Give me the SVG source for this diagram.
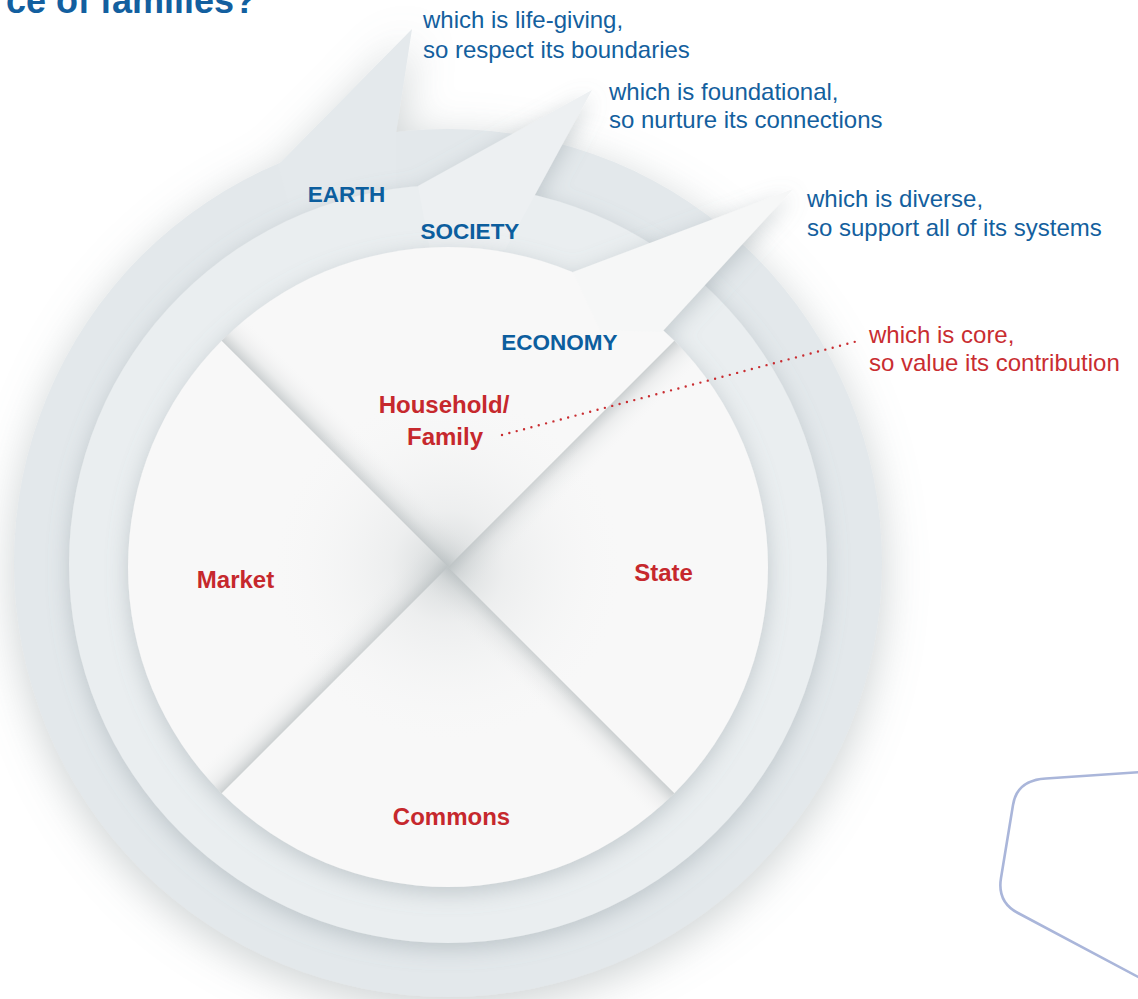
<svg xmlns="http://www.w3.org/2000/svg" width="1138" height="999" viewBox="0 0 1138 999">
<defs>
<style>
.lbl{font-family:"Liberation Sans",Arial,sans-serif;font-weight:bold;font-size:22.5px;fill:#0c5e9e;text-anchor:middle}
.sec{font-family:"Liberation Sans",Arial,sans-serif;font-weight:bold;font-size:24px;fill:#c6282d;text-anchor:middle}
.call{font-family:"Liberation Sans",Arial,sans-serif;font-size:24px;fill:#145f9e}
.callr{font-family:"Liberation Sans",Arial,sans-serif;font-size:24px;fill:#c92d31}
.title{font-family:"Liberation Sans",Arial,sans-serif;font-weight:bold;font-size:36px;fill:#135f9f;text-anchor:end}
</style>
<filter id="glow" x="-30%" y="-30%" width="160%" height="160%">
<feGaussianBlur in="SourceAlpha" stdDeviation="22"/>
<feOffset dy="10" result="o"/>
<feFlood flood-color="#8f9a9c" flood-opacity="0.45"/>
<feComposite in2="o" operator="in" result="s"/>
<feMerge><feMergeNode in="s"/><feMergeNode in="SourceGraphic"/></feMerge>
</filter>
<filter id="ds" x="-20%" y="-20%" width="140%" height="140%">
<feGaussianBlur in="SourceAlpha" stdDeviation="11"/>
<feOffset dy="6" result="o"/>
<feFlood flood-color="#7f8d93" flood-opacity="0.38"/>
<feComposite in2="o" operator="in" result="s"/>
<feMerge><feMergeNode in="s"/><feMergeNode in="SourceGraphic"/></feMerge>
</filter>
<linearGradient id="shTop" gradientUnits="userSpaceOnUse" x1="448" y1="567" x2="472.7" y2="542.3">
<stop offset="0" stop-color="#8e989b" stop-opacity="0.42"/><stop offset="0.35" stop-color="#a3abad" stop-opacity="0.15"/><stop offset="1" stop-color="#ffffff" stop-opacity="0"/>
</linearGradient>
<linearGradient id="shRight" gradientUnits="userSpaceOnUse" x1="448" y1="567" x2="472.7" y2="591.7">
<stop offset="0" stop-color="#8e989b" stop-opacity="0.42"/><stop offset="0.35" stop-color="#a3abad" stop-opacity="0.15"/><stop offset="1" stop-color="#ffffff" stop-opacity="0"/>
</linearGradient>
<linearGradient id="shBottom" gradientUnits="userSpaceOnUse" x1="448" y1="567" x2="423.3" y2="591.7">
<stop offset="0" stop-color="#8e989b" stop-opacity="0.42"/><stop offset="0.35" stop-color="#a3abad" stop-opacity="0.15"/><stop offset="1" stop-color="#ffffff" stop-opacity="0"/>
</linearGradient>
<linearGradient id="shLeft" gradientUnits="userSpaceOnUse" x1="448" y1="567" x2="423.3" y2="542.3">
<stop offset="0" stop-color="#8e989b" stop-opacity="0.42"/><stop offset="0.35" stop-color="#a3abad" stop-opacity="0.15"/><stop offset="1" stop-color="#ffffff" stop-opacity="0"/>
</linearGradient>
<radialGradient id="center" gradientUnits="userSpaceOnUse" cx="448" cy="567" r="190">
<stop offset="0" stop-color="#aeb6b8" stop-opacity="0.5"/><stop offset="0.3" stop-color="#c2c8ca" stop-opacity="0.2"/><stop offset="1" stop-color="#ffffff" stop-opacity="0"/>
</radialGradient>
<clipPath id="cTop"><path d="M448,567 L221.7,340.7 A320,320 0 0 1 674.3,340.7 Z"/></clipPath>
<clipPath id="cRight"><path d="M448,567 L674.3,340.7 A320,320 0 0 1 674.3,793.3 Z"/></clipPath>
<clipPath id="cBottom"><path d="M448,567 L674.3,793.3 A320,320 0 0 1 221.7,793.3 Z"/></clipPath>
<clipPath id="cLeft"><path d="M448,567 L221.7,793.3 A320,320 0 0 1 221.7,340.7 Z"/></clipPath>
</defs>
<rect width="1138" height="999" fill="#ffffff"/>

<g id="earth" filter="url(#glow)">
<circle cx="448" cy="563" r="434" fill="#e3e8eb"/>
<polygon points="278,165 412,29 396,133 396,210 290,210" fill="#e4e9ec"/>
</g>

<g id="society" filter="url(#ds)">
<circle cx="448" cy="564" r="379" fill="#eaeef0"/>
<polygon points="418,186 592,90 505,250 430,250" fill="#edf0f2"/>
</g>

<g id="economy" filter="url(#ds)">
<circle cx="448" cy="567" r="320" fill="#f8f8f8"/>
<polygon points="573,272 793,189 662,332 600,330" fill="#f6f7f7"/>
</g>

<g id="sector-shading">
<rect x="120" y="240" width="660" height="660" fill="url(#shTop)" clip-path="url(#cTop)"/>
<rect x="120" y="240" width="660" height="660" fill="url(#shRight)" clip-path="url(#cRight)"/>
<rect x="120" y="240" width="660" height="660" fill="url(#shBottom)" clip-path="url(#cBottom)"/>
<rect x="120" y="240" width="660" height="660" fill="url(#shLeft)" clip-path="url(#cLeft)"/>
<circle cx="448" cy="567" r="190" fill="url(#center)"/>
</g>

<g id="ring-labels">
<text class="lbl" x="346.5" y="202">EARTH</text>
<text class="lbl" x="470" y="239">SOCIETY</text>
<text class="lbl" x="559.5" y="350">ECONOMY</text>
</g>

<g id="household"><text class="sec" x="444" y="413">Household/</text><text class="sec" x="445" y="445">Family</text></g>
<g id="market"><text class="sec" x="235.5" y="588">Market</text></g>
<g id="state"><text class="sec" x="663.5" y="581">State</text></g>
<g id="commons"><text class="sec" x="451.5" y="825">Commons</text></g>

<g id="connectors">
<line x1="502" y1="435" x2="858" y2="341" stroke="#c92d31" stroke-width="2.4" stroke-linecap="round" stroke-dasharray="0 7.6"/>
</g>

<g id="callout-earth"><text class="call" x="423" y="28">which is life-giving,</text><text class="call" x="423" y="58">so respect its boundaries</text></g>
<g id="callout-society"><text class="call" x="609" y="100">which is foundational,</text><text class="call" x="609" y="128">so nurture its connections</text></g>
<g id="callout-economy"><text class="call" x="807" y="207">which is diverse,</text><text class="call" x="807" y="236">so support all of its systems</text></g>
<g id="callout-household"><text class="callr" x="869" y="343">which is core,</text><text class="callr" x="869" y="371">so value its contribution</text></g>

<g id="title"><text class="title" x="256" y="13">ce of families?</text></g>

<g id="corner-shape">
<path d="M1142,772 L1046,778.5 Q1017,780 1013,805 L1001,878 Q997,902 1018,913 L1142,979" fill="none" stroke="#aab6da" stroke-width="2.6" stroke-linejoin="round"/>
</g>
</svg>
